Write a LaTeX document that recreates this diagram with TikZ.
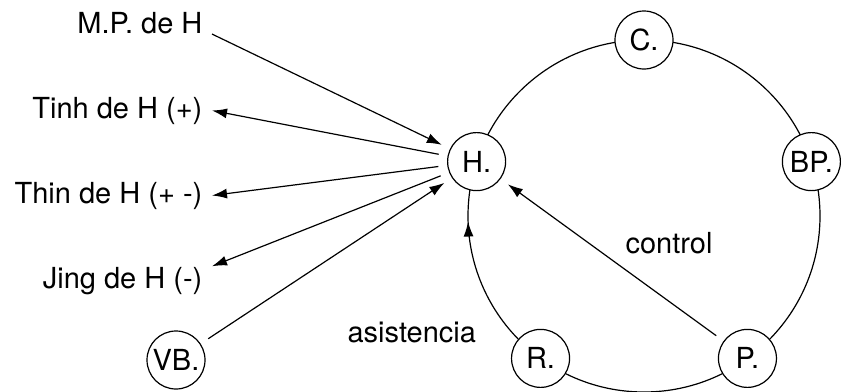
\documentclass[tikz,border=0pt]{standalone}
\usepackage{fontspec}
\setmainfont{TeX Gyre Heros}
\usetikzlibrary{arrows.meta,calc,decorations.markings}

\begin{document}
\begin{tikzpicture}[x=1pt,y=1pt,line width=1.2pt,
    every node/.style={font=\fontsize{29}{32}\selectfont},
    state/.style={circle,draw,fill=white,minimum size=58pt,inner sep=0pt},
    tag/.style={inner xsep=9pt,inner ysep=0pt,anchor=base east},
    word/.style={inner sep=0pt,anchor=base west},
    tip/.style={-{Latex[length=15pt,width=10pt]}},
    cut/.style={shorten <=9pt,shorten >=9pt},
    midtip/.style={postaction={decorate},decoration={markings,
        mark=at position 0.505 with {\arrowreversed{Latex[length=15pt,width=10pt]}}}}]
    \useasboundingbox (0,0) rectangle (845,-391);
    % ring of states
    \coordinate (o) at (644,-216);
    \draw[midtip] (o) circle (176);
    \node[state] (h) at ($(o)+(162:176)$) {H.};
    \node[state] (c) at ($(o)+(90:176)$) {C.};
    \node[state] (bp) at ($(o)+(18:176)$) {BP.};
    \node[state] (p) at ($(o)+(-54:176)$) {P.};
    \node[state] (r) at ($(o)+(-126:176)$) {R.};
    \node[state] (vb) at (176,-360) {VB.};
    % left labels
    \node[tag] (mp) at (212,-33) {M.P. de H};
    \node[tag] (tinh) at (212,-118) {Tinh de H (+)};
    \node[tag] (thin) at (212,-203) {Thin de H (+ -)};
    \node[tag] (jing) at (212,-288) {Jing de H (-)};
    \node[word] (asis) at (347,-342) {asistencia};
    \node[word] (ctrl) at (625,-253) {control};
    % straight links
    \draw[tip,shorten >=9pt] (mp.south east) -- (h);
    \draw[tip,shorten <=9pt] (h) -- (tinh.east);
    \draw[tip,shorten <=9pt] (h) -- (thin.east);
    \draw[tip,shorten <=9pt] (h) -- (jing.north east);
    \draw[tip,cut] (vb) -- (h);
    \draw[tip,cut] (p) -- (h);
\end{tikzpicture}
\end{document}
